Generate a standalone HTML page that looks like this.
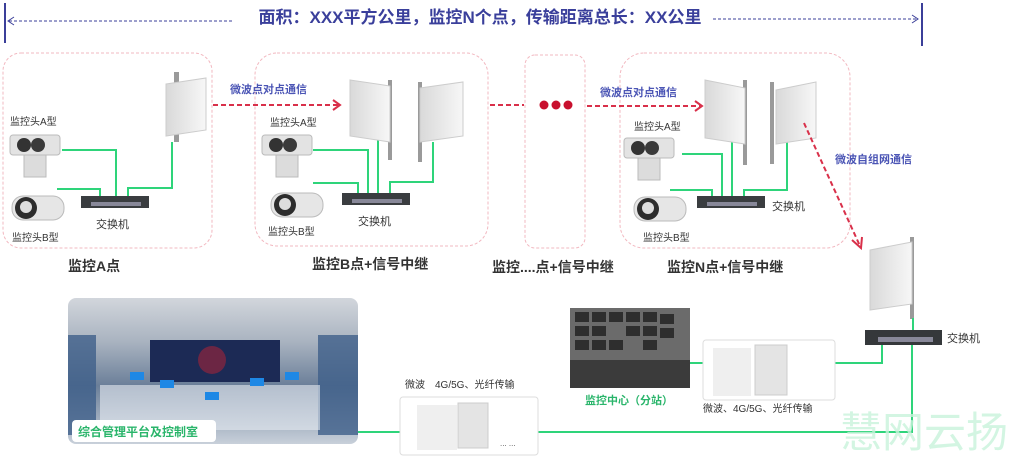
<!DOCTYPE html>
<html><head><meta charset="utf-8"><style>
html,body{margin:0;padding:0;background:#fff;}
svg{display:block;font-family:"Liberation Sans","Noto Sans CJK SC",sans-serif;}
</style></head><body>
<svg width="1029" height="462" viewBox="0 0 1029 462" xmlns="http://www.w3.org/2000/svg">
<defs>
<linearGradient id="pan" x1="0" x2="1"><stop offset="0" stop-color="#d9d9d9"/><stop offset="1" stop-color="#f7f7f7"/></linearGradient>
<linearGradient id="room" x1="0" y1="0" x2="0" y2="1"><stop offset="0" stop-color="#d2d6dc"/><stop offset="0.3" stop-color="#a9b3c0"/><stop offset="0.6" stop-color="#6b7f99"/><stop offset="1" stop-color="#c8d0da"/></linearGradient>
<g id="cam">
<rect x="0" y="0" width="50" height="20" rx="3" fill="#e3e3e3" stroke="#bbb"/>
<circle cx="14" cy="10" r="7" fill="#333"/><circle cx="28" cy="10" r="7" fill="#3a3a3a"/>
<rect x="14" y="20" width="22" height="22" fill="#dcdcdc" stroke="#bbb"/>
</g>
<g id="bcam">
<rect x="0" y="0" width="52" height="24" rx="11" fill="#e6e6e6" stroke="#bbb"/>
<circle cx="14" cy="12" r="11" fill="#2d2d2d"/><circle cx="14" cy="11" r="6" fill="#ddd"/>
</g>
<g id="sw">
<rect x="0" y="0" width="68" height="12" fill="#3a3d40"/><rect x="10" y="6" width="50" height="4" fill="#889"/>
</g>
<g id="ant">
<rect x="8" y="-6" width="5" height="70" fill="#9a9a9a"/>
<path d="M0 6 L40 0 L40 52 L0 58 Z" fill="url(#pan)" stroke="#ccc"/>
</g>
</defs>

<line x1="5" y1="3" x2="5" y2="43" stroke="#3b3f99" stroke-width="2"/>
<line x1="9" y1="21" x2="233" y2="21" stroke="#3b3f99" stroke-dasharray="3,2"/>
<path d="M14 17 L8 21 L14 25" fill="none" stroke="#3b3f99"/>
<text x="480" y="23" text-anchor="middle" font-size="17" font-weight="bold" fill="#3a3f9b">面积：XXX平方公里，监控N个点，传输距离总长：XX公里</text>
<line x1="713" y1="19" x2="918" y2="19" stroke="#3b3f99" stroke-dasharray="3,2"/>
<path d="M912 15 L918 19 L912 23" fill="none" stroke="#3b3f99"/>
<line x1="922" y1="3" x2="922" y2="46" stroke="#3b3f99" stroke-width="2"/>

<g fill="none" stroke="#f2b8c0" stroke-dasharray="3,2">
<rect x="3" y="53" width="209" height="195" rx="18"/>
<rect x="255" y="53" width="233" height="193" rx="22"/>
<rect x="525" y="55" width="60" height="193" rx="10"/>
<rect x="620" y="53" width="230" height="195" rx="24"/>
</g>

<g fill="none" stroke="#2ed47a" stroke-width="2">
<path d="M62 150 H116 V200"/><path d="M57 189 H100 V200"/><path d="M128 200 V188 H172 V142"/>
<path d="M313 150 H368 V196"/><path d="M313 183 H358 V196"/><path d="M378 196 V140"/><path d="M390 196 V182 H433 V142"/>
<path d="M682 154 H722 V198"/><path d="M670 190 H712 V198"/><path d="M732 198 V140"/><path d="M744 198 V190 H787 V142"/>
</g>

<text x="10" y="125" font-size="10" fill="#333">监控头A型</text>
<use href="#cam" x="10" y="135"/>
<use href="#bcam" x="12" y="196"/>
<text x="12" y="241" font-size="10" fill="#333">监控头B型</text>
<use href="#sw" x="81" y="196"/>
<text x="96" y="228" font-size="11" fill="#333">交换机</text>
<use href="#ant" x="166" y="78"/>

<text x="270" y="126" font-size="10" fill="#333">监控头A型</text>
<use href="#cam" x="262" y="135"/>
<use href="#bcam" x="271" y="193"/>
<text x="268" y="235" font-size="10" fill="#333">监控头B型</text>
<use href="#sw" x="342" y="193"/>
<text x="358" y="225" font-size="11" fill="#333">交换机</text>
<g transform="translate(350,80)"><rect x="38" y="0" width="4" height="80" fill="#9a9a9a"/><path d="M0 0 L40 6 L40 62 L0 56 Z" fill="url(#pan)" stroke="#ccc"/></g>
<g transform="translate(418,82)"><rect x="0" y="0" width="4" height="80" fill="#9a9a9a"/><path d="M2 6 L45 0 L45 54 L2 60 Z" fill="url(#pan)" stroke="#ccc"/></g>

<text x="634" y="130" font-size="10" fill="#333">监控头A型</text>
<use href="#cam" x="624" y="138"/>
<use href="#bcam" x="634" y="197"/>
<text x="643" y="241" font-size="10" fill="#333">监控头B型</text>
<use href="#sw" x="697" y="196"/>
<text x="772" y="210" font-size="11" fill="#333">交换机</text>
<g transform="translate(705,80)"><rect x="38" y="0" width="4" height="85" fill="#9a9a9a"/><path d="M0 0 L40 8 L40 64 L0 58 Z" fill="url(#pan)" stroke="#ccc"/></g>
<g transform="translate(770,82)"><rect x="0" y="0" width="4" height="82" fill="#9a9a9a"/><path d="M6 8 L46 0 L46 56 L6 62 Z" fill="url(#pan)" stroke="#ccc"/></g>

<g stroke="#d9304a" stroke-width="2" stroke-dasharray="5,3" fill="none">
<line x1="213" y1="105" x2="338" y2="105"/>
<line x1="490" y1="105" x2="524" y2="105"/>
<line x1="587" y1="106" x2="700" y2="106"/>
<line x1="804" y1="123" x2="860" y2="246"/>
</g>
<g stroke="#d9304a" stroke-width="2" fill="none">
<path d="M333 100 L340 105 L333 110"/><path d="M695 101 L702 106 L695 111"/><path d="M852 240 L861 248 L862 237"/>
</g>
<circle cx="544" cy="105" r="4.5" fill="#c8102e"/><circle cx="556" cy="105" r="4.5" fill="#c8102e"/><circle cx="568" cy="105" r="4.5" fill="#c8102e"/>
<text x="230" y="93" font-size="11" font-weight="bold" fill="#4b55b5">微波点对点通信</text>
<text x="600" y="96" font-size="11" font-weight="bold" fill="#4b55b5">微波点对点通信</text>
<text x="835" y="163" font-size="11" font-weight="bold" fill="#4b55b5">微波自组网通信</text>

<g font-size="14" fill="#333" font-weight="bold">
<text x="68" y="271">监控A点</text>
<text x="312" y="269">监控B点+信号中继</text>
<text x="492" y="272">监控....点+信号中继</text>
<text x="667" y="272">监控N点+信号中继</text>
</g>

<g transform="translate(870,242)"><rect x="40" y="-5" width="4" height="82" fill="#9a9a9a"/><path d="M0 8 L42 0 L42 62 L0 68 Z" fill="url(#pan)" stroke="#ccc"/></g>
<g fill="none" stroke="#2ed47a" stroke-width="2">
<path d="M913 318 V330"/>
<path d="M912 345 V432 H538"/><path d="M400 432 H358"/>
<path d="M882 345 V363 H835"/><path d="M690 363 H703"/>
</g>
<rect x="865" y="330" width="77" height="15" fill="#35383b"/><rect x="878" y="337" width="55" height="5" fill="#889"/>
<text x="947" y="342" font-size="11" fill="#333">交换机</text>

<rect x="68" y="298" width="290" height="146" rx="8" fill="url(#room)"/>
<rect x="150" y="340" width="130" height="42" fill="#1c2a55"/>
<circle cx="212" cy="360" r="14" fill="#b23" opacity="0.5"/>
<rect x="68" y="335" width="28" height="100" fill="#3e5f8a" opacity="0.8"/>
<rect x="318" y="335" width="40" height="100" fill="#3e5f8a" opacity="0.8"/>
<rect x="100" y="385" width="220" height="45" fill="#e6ebf2" opacity="0.6"/>
<g fill="#1e88e5"><rect x="130" y="372" width="14" height="8"/><rect x="160" y="380" width="14" height="8"/><rect x="250" y="378" width="14" height="8"/><rect x="285" y="372" width="14" height="8"/><rect x="205" y="392" width="14" height="8"/></g>
<rect x="72" y="420" width="144" height="22" rx="4" fill="#fff"/>
<text x="78" y="436" font-size="12" fill="#2ab56b" font-weight="bold">综合管理平台及控制室</text>

<text x="405" y="388" font-size="10" fill="#333">微波　4G/5G、光纤传输</text>
<rect x="400" y="397" width="138" height="58" rx="3" fill="#fff" stroke="#ddd"/>
<rect x="417" y="405" width="40" height="45" fill="#efefef"/>
<rect x="458" y="403" width="30" height="45" fill="#e4e4e4" stroke="#ccc"/>
<text x="500" y="446" font-size="8" fill="#555">... ...</text>

<rect x="570" y="308" width="120" height="80" fill="#6b6b6b"/>
<g fill="#2e2e2e">
<rect x="575" y="312" width="14" height="10"/><rect x="592" y="312" width="14" height="10"/><rect x="609" y="312" width="14" height="10"/><rect x="626" y="312" width="14" height="10"/><rect x="643" y="312" width="14" height="10"/><rect x="660" y="314" width="14" height="10"/>
<rect x="575" y="326" width="14" height="10"/><rect x="592" y="326" width="14" height="10"/><rect x="626" y="326" width="14" height="10"/><rect x="643" y="326" width="14" height="10"/><rect x="660" y="328" width="14" height="10"/>
<rect x="575" y="340" width="14" height="10"/><rect x="592" y="340" width="14" height="10"/><rect x="609" y="340" width="14" height="10"/><rect x="643" y="340" width="14" height="10"/>
</g>
<rect x="570" y="360" width="120" height="28" fill="#3b3b3b"/>
<text x="585" y="404" font-size="11" fill="#2ab56b" font-weight="bold">监控中心（分站）</text>
<rect x="703" y="340" width="132" height="60" rx="3" fill="#fff" stroke="#ddd"/>
<rect x="713" y="348" width="38" height="48" fill="#efefef"/>
<rect x="755" y="345" width="32" height="50" fill="#e4e4e4" stroke="#ccc"/>
<text x="703" y="412" font-size="10" fill="#333">微波、4G/5G、光纤传输</text>

<text x="840" y="447" font-size="42" fill="#c9f3dc" opacity="0.8">慧网云扬</text>
</svg>
</body></html>
